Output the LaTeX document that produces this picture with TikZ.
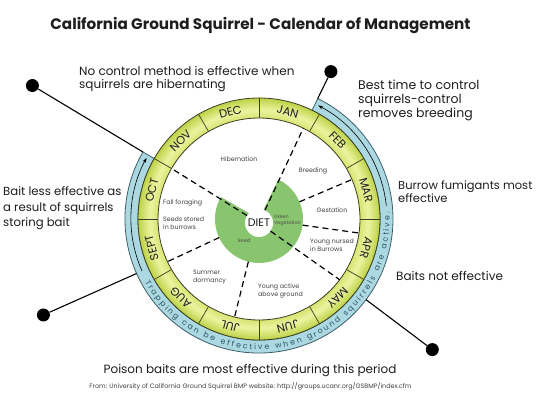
\documentclass[tikz,border=0pt]{standalone}
\usepackage{fontspec}
\setmainfont{Poppins}
\usetikzlibrary{decorations.text,arrows.meta}
\definecolor{ringlight}{RGB}{236,243,160}
\definecolor{ringmid}{RGB}{214,228,112}
\definecolor{ringdark}{RGB}{188,210,70}
\definecolor{ringline}{RGB}{60,62,35}
\definecolor{bandfill}{RGB}{172,216,226}
\definecolor{bandline}{RGB}{60,95,105}
\definecolor{bandtext}{RGB}{45,85,100}
\definecolor{dietgreen}{RGB}{137,197,110}
\definecolor{txt}{RGB}{30,30,30}
\pgfdeclareradialshading{ringshade}{\pgfpoint{0bp}{0bp}}{color(0bp)=(ringmid); color(20.8bp)=(ringmid); color(22.6bp)=(ringlight); color(25bp)=(ringdark); color(50bp)=(ringdark)}
\begin{document}
\begin{tikzpicture}[x=1pt,y=1pt,
  dot/.style={circle,fill=black,inner sep=0pt,minimum size=13pt},
  conn/.style={line width=1.1pt,black},
  dashline/.style={line width=1.2pt,dash pattern=on 6pt off 4pt,black},
  lbl/.style={font=\fontsize{12}{14}\selectfont,text=txt,align=left,inner sep=0pt,anchor=west},
  inlbl/.style={font=\fontsize{6.3}{8}\selectfont,text=txt!85,align=left,inner sep=0pt},
  mon/.style={font=\fontsize{11.5}{12}\selectfont,text=txt,inner sep=0pt},
  bandarrow/.style={line width=0.6pt,black,-{Stealth[length=5pt,width=3.5pt]}}
]
\fill[white] (0,0) rectangle (537,413);
\useasboundingbox (0,0) rectangle (537,413);

\node[font=\bfseries\fontsize{15.2}{17}\selectfont,text=txt] (title) at (260.5,387) {California Ground Squirrel - Calendar of Management};

\begin{scope}[shift={(259,194)}]
  % blue band
  \filldraw[fill=bandfill,draw=bandline,line width=0.8pt]
    (150:121pt) -- (150:134pt) arc[start angle=150,end angle=424,radius=134pt]
    -- (424:121pt) arc[start angle=424,end angle=150,radius=121pt] -- cycle;
  \draw[bandarrow] (204:128pt) arc[start angle=204,end angle=151.5,radius=128pt];
  \draw[bandarrow] (366:128pt) arc[start angle=366,end angle=422.5,radius=128pt];
  \path[decorate,decoration={text along path,text align=fit to path,
    text={|\fontsize{7.8}{8}\selectfont\color{bandtext}|Trapping can be effective when ground squirrels are active.}}]
    (209:130.5pt) arc[start angle=209,end angle=363,radius=130.5pt];

  % month ring
  \shade[shading=ringshade,even odd rule] (0,0) circle[radius=121pt] (0,0) circle[radius=101pt];
  \draw[ringline,line width=0.8pt] (0,0) circle[radius=121pt] (0,0) circle[radius=101pt];
  \foreach \a in {0,30,...,330} \draw[ringline,line width=0.7pt] (\a:101pt) -- (\a:121pt);
  \foreach \m/\a in {JAN/75,FEB/45,MAR/15,APR/-15,MAY/-45,JUN/-75,JUL/-105,AUG/-135,SEPT/-165,OCT/165,NOV/135,DEC/105}
    \node[mon,rotate=\a-90] (m\m) at (\a:111pt) {\m};

  % diet
  \fill[dietgreen] (0,0) -- (150:44pt) arc[start angle=150,end angle=424,radius=44pt] -- cycle;
  \node[circle,fill=white,minimum size=28pt,inner sep=0pt,font=\fontsize{11}{12}\selectfont,text=txt] (diet) at (0,-4) {DIET};
  \node[inlbl,font=\fontsize{4.8}{6}\selectfont,anchor=west,text=txt!80] (gv) at (15,-1) {Green\\Vegetation};
  \node[inlbl,font=\fontsize{5}{6}\selectfont,text=txt!80] (seed) at (-15,-22) {Seed};

  % ray ends
  \foreach \n/\a in {a/64,b/150,c/-37} \coordinate (r\n) at (\a:101pt);
  \foreach \n/\a in {d/23,e/-8,f/205,g/256} {
    \coordinate (s\n) at (\a:44pt);
    \coordinate (r\n) at (\a:101pt);
  }
  \draw[dashline] (diet) -- (ra);
  \draw[dashline] (diet) -- (rb);
  \draw[dashline] (diet) -- (rc);
  \foreach \n in {d,e,f,g} \draw[dashline] (s\n) -- (r\n);

  % callout dots
  \node[dot] (dTL) at (149.5:263pt) {};
  \node[dot] (dTR) at (64:164pt) {};
  \node[dot] (dL) at (204:236pt) {};
  \node[dot] (dBR) at (-37:217pt) {};
  \coordinate (oTL) at (150:134pt);
  \coordinate (oTR) at (64:134pt);
  \coordinate (oL) at (204:134pt);
  \coordinate (oBR) at (-37:134pt);
  \draw[conn] (dTL) -- (oTL);
  \draw[conn] (dTR) -- (oTR);
  \draw[conn] (dL) -- (oL);
  \draw[conn] (dBR) -- (oBR);
\end{scope}

% inner labels
\node[inlbl] (hib) at (239,254) {Hibernation};
\node[inlbl] (bre) at (313,242) {Breeding};
\node[inlbl] (ges) at (332,203) {Gestation};
\node[inlbl,anchor=west] (yn) at (310,167.5) {Young nursed\\in Burrows};
\node[inlbl,anchor=west] (ya) at (258,122) {Young active\\above ground};
\node[inlbl,anchor=west] (sd) at (193,136) {Summer\\dormancy};
\node[inlbl,anchor=west] (ff) at (163,210) {Fall foraging};
\node[inlbl,anchor=west] (ss) at (163,190) {Seeds stored\\in burrows};

% outer labels
\node[lbl,font=\fontsize{12}{13.5}\selectfont] (t1) at (79,334) {No control method is effective when\\squirrels are hibernating};
\node[lbl,font=\fontsize{12.5}{14}\selectfont] (t2) at (358,313) {Best time to control\\squirrels-control\\removes breeding};
\node[lbl,font=\fontsize{11.5}{13}\selectfont] (t3) at (398,221) {Burrow fumigants most\\effective};
\node[lbl,font=\fontsize{12}{14}\selectfont] (t4) at (396,137) {Baits not effective};
\node[lbl,font=\fontsize{11.7}{15.5}\selectfont] (t5) at (3,204.5) {Bait less effective as\\a result of squirrels\\storing bait};
\node[lbl,anchor=center,font=\fontsize{12}{14}\selectfont] (t6) at (250,42) {Poison baits are most effective during this period};
\node[font=\fontsize{6.4}{7}\selectfont,text=txt!85,inner sep=0pt] (src) at (250.5,26.5) {From: University of California Ground Squirrel BMP website: http://groups.ucanr.org/GSBMP/index.cfm};
\end{tikzpicture}
\end{document}
